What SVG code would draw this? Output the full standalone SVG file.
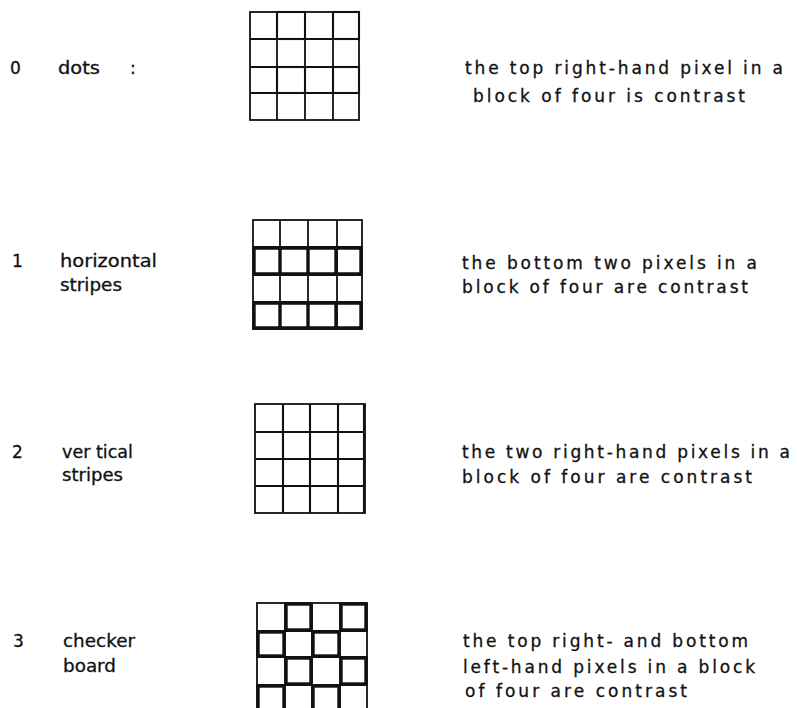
<svg xmlns="http://www.w3.org/2000/svg" width="798" height="708" viewBox="0 0 798 708">
<style>
text{font-family:"DejaVu Sans","Liberation Sans",sans-serif;font-size:17px;fill:#111;stroke:#111;stroke-width:0.3}
.g{fill:none;stroke:#111;stroke-width:1.8}
.b{fill:none;stroke:#111;stroke-width:3.4}
.m{fill:none;stroke:#111;stroke-width:2.1}
</style>
<rect width="798" height="708" fill="#fff"/>
<g id="row0">
<text x="10" y="74">0</text>
<text x="58" y="74" textLength="42" lengthAdjust="spacingAndGlyphs">dots</text>
<text x="130" y="74">:</text>
<g id="grid0">
<rect class="g" x="250" y="12" width="109" height="108"/>
<path class="g" d="M277 12V120M305 12V120M333 12V120M250 39H359M250 67H359M250 93H359"/>
<rect class="m" x="277" y="12" width="28" height="27"/>
<rect class="m" x="333" y="12" width="26" height="27"/>
<rect class="m" x="277" y="67" width="28" height="26"/>
<rect class="m" x="333" y="67" width="26" height="26"/>
</g>
<text x="465" y="74" textLength="318" lengthAdjust="spacing">the top right-hand pixel in a</text>
<text x="473" y="102" textLength="272" lengthAdjust="spacing">block of four is contrast</text>
</g>
<g id="row1">
<text x="12" y="267">1</text>
<text x="60" y="267" textLength="97" lengthAdjust="spacingAndGlyphs">horizontal</text>
<text x="60" y="291" textLength="62" lengthAdjust="spacingAndGlyphs">stripes</text>
<g id="grid1">
<rect class="g" x="253" y="220" width="109" height="109"/>
<path class="g" d="M280 220V329M308 220V329M337 220V329M253 247H362M253 275H362M253 302H362"/>
<path class="b" d="M254 247V275M280 247V275M308 247V275M336 247V275M361 247V275M253 248H362M253 274H362"/>
<path class="b" d="M254 302V329M280 302V329M308 302V329M336 302V329M361 302V329M253 303H362M253 328H362"/>
</g>
<text x="462" y="269" textLength="295" lengthAdjust="spacing">the bottom two pixels in a</text>
<text x="462" y="293" textLength="286" lengthAdjust="spacing">block of four are contrast</text>
</g>
<g id="row2">
<text x="12" y="458">2</text>
<text x="62" y="458" textLength="71" lengthAdjust="spacingAndGlyphs">ver tical</text>
<text x="62" y="481" textLength="61" lengthAdjust="spacingAndGlyphs">stripes</text>
<g id="grid2">
<rect class="g" x="255" y="404" width="110" height="109"/>
<path class="g" d="M283 404V513M310 404V513M338 404V513M255 432H365M255 459H365M255 486H365"/>
<path class="m" d="M283 404V513M310 404V513M338 404V513M364 404V513"/>
</g>
<text x="462" y="458" textLength="328" lengthAdjust="spacing">the two right-hand pixels in a</text>
<text x="462" y="483" textLength="290" lengthAdjust="spacing">block of four are contrast</text>
</g>
<g id="row3">
<text x="13" y="647">3</text>
<text x="63" y="647" textLength="72" lengthAdjust="spacingAndGlyphs">checker</text>
<text x="63" y="672" textLength="53" lengthAdjust="spacingAndGlyphs">board</text>
<g id="grid3">
<rect class="g" x="257" y="603" width="110" height="112"/>
<path class="g" d="M285 603V715M312 603V715M340 603V715M257 631H367M257 657H367M257 685H367"/>
<rect class="b" x="286" y="604" width="25" height="26"/>
<rect class="b" x="341" y="604" width="25" height="26"/>
<rect class="b" x="258" y="632" width="26" height="24"/>
<rect class="b" x="313" y="632" width="26" height="24"/>
<rect class="b" x="286" y="658" width="25" height="26"/>
<rect class="b" x="341" y="658" width="25" height="26"/>
<rect class="b" x="258" y="686" width="26" height="26"/>
<rect class="b" x="313" y="686" width="26" height="26"/>
</g>
<text x="463" y="647" textLength="285" lengthAdjust="spacing">the top right- and bottom</text>
<text x="463" y="673" textLength="292" lengthAdjust="spacing">left-hand pixels in a block</text>
<text x="465" y="697" textLength="222" lengthAdjust="spacing">of four are contrast</text>
</g>
</svg>
